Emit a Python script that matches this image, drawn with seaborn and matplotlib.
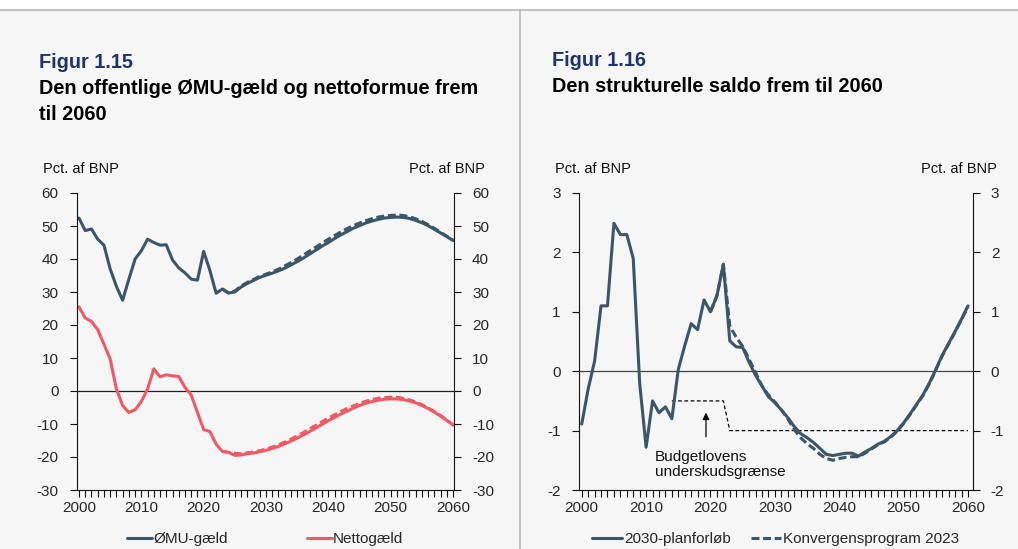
import numpy as np
import pandas as pd
import matplotlib.pyplot as plt
import seaborn as sns
from matplotlib.lines import Line2D
from matplotlib.ticker import MultipleLocator

# --- data ---
years = list(range(2000, 2061))

emu_debt = [52.4, 48.6, 49.1, 46.0, 44.2, 37.0, 31.7, 27.5, 33.9, 40.0,
            42.5, 46.0, 45.0, 44.2, 44.3, 39.7, 37.3, 35.8, 33.9, 33.6,
            42.3, 36.5, 29.6, 30.9, 29.7, 30.0, 31.5, 32.6, 33.5, 34.4,
            35.1, 35.7, 36.4, 37.2, 38.2, 39.2, 40.3, 41.5, 42.7, 43.9,
            45.0, 46.2, 47.3, 48.3, 49.3, 50.1, 50.9, 51.5, 52.0, 52.4,
            52.6, 52.7, 52.6, 52.3, 51.7, 51.0, 50.1, 49.0, 47.9, 46.8, 45.6]

net_debt = [25.5, 22.1, 21.1, 18.6, 14.2, 9.7, 0.6, -4.4, -6.5, -5.7,
            -3.2, 0.6, 6.7, 4.3, 4.9, 4.6, 4.4, 1.1, -1.2, -6.5,
            -11.7, -12.3, -16.1, -18.3, -18.6, -19.5, -19.4, -19.0, -18.8, -18.4,
            -18.0, -17.4, -16.8, -16.0, -15.2, -14.3, -13.3, -12.3, -11.2, -10.1,
            -9.0, -8.0, -7.0, -6.1, -5.2, -4.4, -3.7, -3.2, -2.8, -2.5,
            -2.4, -2.4, -2.6, -3.0, -3.6, -4.4, -5.3, -6.4, -7.6, -8.9, -10.3]

kp_years = list(range(2023, 2061))
emu_debt_kp = [30.9, 29.7, 30.3, 31.8, 32.9, 33.8, 34.7, 35.4, 36.1, 36.9,
               37.9, 38.9, 40.0, 41.2, 42.4, 43.6, 44.8, 46.0, 47.1, 48.2,
               49.2, 50.1, 50.9, 51.6, 52.2, 52.7, 53.0, 53.2, 53.3, 53.2,
               52.8, 52.2, 51.4, 50.4, 49.3, 48.1, 46.9, 45.7]
net_debt_kp = [-18.3, -18.6, -18.9, -19.0, -18.7, -18.5, -18.1, -17.6, -17.0, -16.3,
               -15.5, -14.6, -13.6, -12.6, -11.5, -10.4, -9.3, -8.2, -7.2, -6.2,
               -5.3, -4.5, -3.8, -3.1, -2.6, -2.2, -2.0, -1.9, -1.9, -2.2,
               -2.7, -3.3, -4.1, -5.1, -6.2, -7.4, -8.8, -10.2]

struct_plan = [-0.89, -0.3, 0.17, 1.1, 1.1, 2.49, 2.3, 2.3, 1.9, -0.2,
               -1.28, -0.5, -0.7, -0.6, -0.8, 0.03, 0.43, 0.8, 0.7, 1.2,
               1.0, 1.27, 1.8, 0.51, 0.41, 0.40, 0.15, -0.07, -0.25, -0.43,
               -0.53, -0.65, -0.78, -0.93, -1.05, -1.12, -1.2, -1.3, -1.4, -1.42,
               -1.4, -1.38, -1.38, -1.43, -1.36, -1.3, -1.23, -1.18, -1.1, -1.0,
               -0.87, -0.72, -0.56, -0.4, -0.2, 0.03, 0.27, 0.47, 0.67, 0.88, 1.1]

kp2_years = list(range(2020, 2061))
struct_kp = [1.0, 1.27, 1.8, 0.76, 0.57, 0.42, 0.2, -0.02, -0.25, -0.4,
             -0.52, -0.65, -0.8, -0.98, -1.12, -1.22, -1.3, -1.4, -1.47, -1.5,
             -1.47, -1.45, -1.44, -1.44, -1.38, -1.31, -1.24, -1.19, -1.11, -1.01,
             -0.88, -0.73, -0.57, -0.41, -0.21, 0.02, 0.26, 0.46, 0.66, 0.87, 1.08]

limit_years = [2014, 2022, 2023, 2060]
limit_vals = [-0.5, -0.5, -1.0, -1.0]

NAVY = "#3b5668"
RED = "#f05a64"
BG = "#f6f6f6"
DASH = (0, (2.6, 1.2))

sns.set_theme(style="ticks")
plt.rcParams["font.family"] = ["Liberation Sans", "DejaVu Sans"]
plt.rcParams["axes.unicode_minus"] = False
plt.rcParams["axes.linewidth"] = 0.8
plt.rcParams["xtick.major.width"] = 0.8
plt.rcParams["ytick.major.width"] = 0.8
plt.rcParams["xtick.minor.width"] = 0.8

fig = plt.figure(figsize=(10.18, 5.49), dpi=100, facecolor=BG)

# white strip on top and separators
fig.patches.append(plt.Rectangle((0, 1 - 10 / 549), 1, 10 / 549, transform=fig.transFigure,
                                 facecolor="white", edgecolor="none", zorder=0))
fig.add_artist(Line2D([0, 1], [1 - 10 / 549] * 2, color="#b8b8b8", lw=1.2))
fig.add_artist(Line2D([520 / 1018] * 2, [0, 1 - 10 / 549], color="#b8b8b8", lw=1.2))

ax1 = fig.add_axes([76.7 / 1018, 59 / 549, (454 - 76.7) / 1018, 297 / 549])
ax2 = fig.add_axes([578.7 / 1018, 59 / 549, (972.7 - 578.7) / 1018, 297 / 549])

df1 = pd.DataFrame({"year": years, "emu": emu_debt, "net": net_debt})
df1k = pd.DataFrame({"year": kp_years, "emu": emu_debt_kp, "net": net_debt_kp})
df2 = pd.DataFrame({"year": years, "plan": struct_plan})
df2k = pd.DataFrame({"year": kp2_years, "kp": struct_kp})

# left panel
ax1.axhline(0, color="#222222", lw=0.9, zorder=1)
sns.lineplot(data=df1k, x="year", y="emu", ax=ax1, color=NAVY, lw=2.2, linestyle=DASH)
sns.lineplot(data=df1k, x="year", y="net", ax=ax1, color=RED, lw=2.2, linestyle=DASH)
sns.lineplot(data=df1, x="year", y="emu", ax=ax1, color=NAVY, lw=2.2)
sns.lineplot(data=df1, x="year", y="net", ax=ax1, color=RED, lw=2.2)
ax1.set_xlim(1999.63, 2060.16)
ax1.set_ylim(-30, 60)
ax1.yaxis.set_major_locator(MultipleLocator(10))

# right panel
ax2.axhline(0, color="#444444", lw=0.9, zorder=1)
ax2.plot(limit_years, limit_vals, color="black", lw=0.9, linestyle=(0, (3, 2)))
sns.lineplot(data=df2k, x="year", y="kp", ax=ax2, color=NAVY, lw=2.2, linestyle=DASH)
sns.lineplot(data=df2, x="year", y="plan", ax=ax2, color=NAVY, lw=2.2)
ax2.set_xlim(1999.53, 2060.73)
ax2.set_ylim(-2, 3)
ax2.yaxis.set_major_locator(MultipleLocator(1))
ax2.annotate("", xy=(2019.3, -0.65), xytext=(2019.3, -1.15),
             arrowprops=dict(arrowstyle="-|>", color="black", lw=0.9, mutation_scale=10))
ax2.text(2011.4, -1.33, "Budgetlovens\nunderskudsgrænse", fontsize=11,
         va="top", ha="left", linespacing=1.1, color="#111111")

for ax in (ax1, ax2):
    ax.set_facecolor(BG)
    ax.set_xlabel("")
    ax.set_ylabel("")
    ax.spines["top"].set_visible(False)
    ax.spines["right"].set_visible(True)
    for s in ("left", "right", "bottom"):
        ax.spines[s].set_color("#111111")
    ax.set_xticks(range(2000, 2061, 10))
    ax.set_xticks(range(2000, 2061), minor=True)
    ax.tick_params(axis="x", which="both", direction="out", length=5, labelsize=11,
                   color="#111111", pad=3)
    ax.tick_params(axis="y", which="both", direction="out", length=5, labelsize=11,
                   left=True, right=True, labelleft=True, labelright=True,
                   color="#111111", pad=8)
    ax.grid(False)

# legends
h_emu = Line2D([], [], color=NAVY, lw=2.2)
h_net = Line2D([], [], color=RED, lw=2.2)
ax1.legend([h_emu, h_net], ["ØMU-gæld", "Nettogæld"], loc="upper center",
           bbox_to_anchor=(0.5, -0.095), ncol=2, frameon=False, fontsize=11,
           handlelength=1.6, handletextpad=0.1, columnspacing=5.2)
h_plan = Line2D([], [], color=NAVY, lw=2.2)
h_kp = Line2D([], [], color=NAVY, lw=2.2, linestyle=DASH)
ax2.legend([h_plan, h_kp], ["2030-planforløb", "Konvergensprogram 2023"], loc="upper center",
           bbox_to_anchor=(0.5, -0.095), ncol=2, frameon=False, fontsize=11,
           handlelength=2.0, handletextpad=0.12, columnspacing=1.3)

# titles and unit labels
fig.text(39 / 1018, 1 - 62 / 549, "Figur 1.15", color="#1c3470", fontsize=14.3,
         fontweight="bold", va="center")
fig.text(39 / 1018, 1 - 88 / 549, "Den offentlige ØMU-gæld og nettoformue frem", color="black",
         fontsize=14.3, fontweight="bold", va="center")
fig.text(39 / 1018, 1 - 115 / 549, "til 2060", color="black", fontsize=14.3,
         fontweight="bold", va="center")
fig.text(551.7 / 1018, 1 - 61 / 549, "Figur 1.16", color="#1c3470", fontsize=14.3,
         fontweight="bold", va="center")
fig.text(551.7 / 1018, 1 - 87 / 549, "Den strukturelle saldo frem til 2060", color="black",
         fontsize=14.3, fontweight="bold", va="center")

for x, ha in ((43, "left"), (485, "right"), (555, "left"), (997, "right")):
    fig.text(x / 1018, 1 - 169 / 549, "Pct. af BNP", fontsize=10.5, ha=ha, va="center",
             color="#111111")

fig.savefig("out.png", dpi=100, facecolor=BG)
